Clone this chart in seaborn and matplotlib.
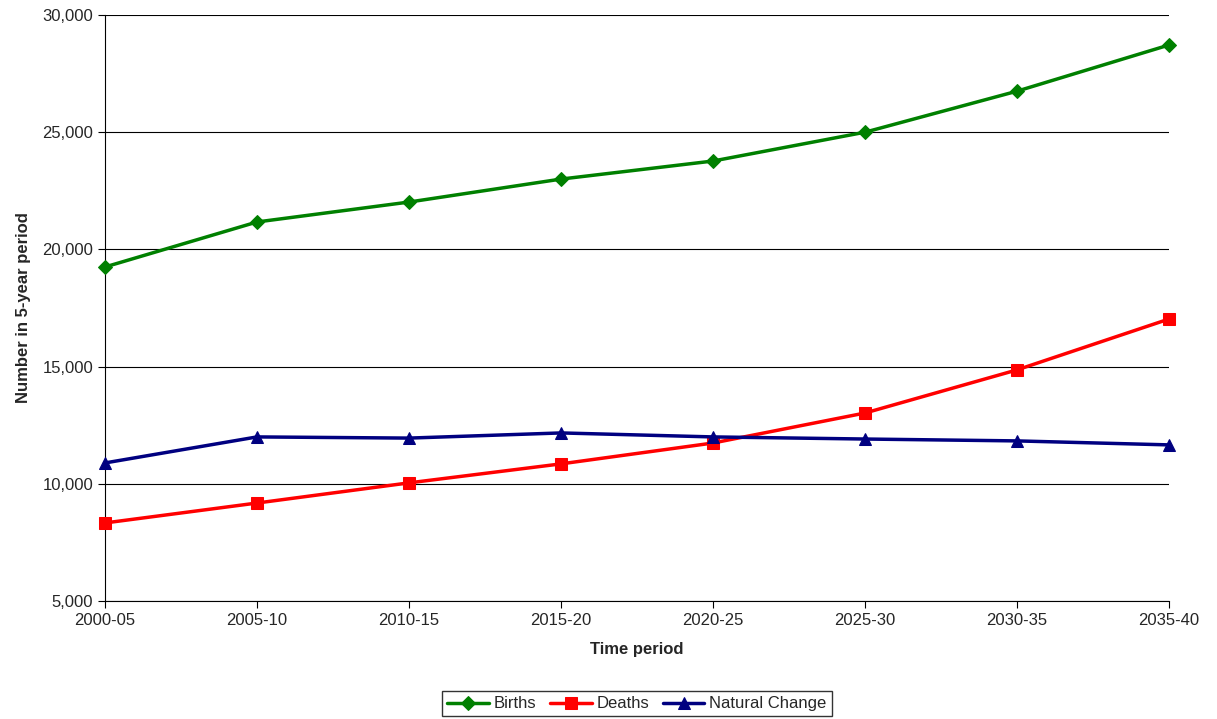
import matplotlib
matplotlib.use("Agg")
import matplotlib.pyplot as plt
import seaborn as sns
import pandas as pd
from matplotlib.ticker import FuncFormatter

periods = ["2000-05","2005-10","2010-15","2015-20","2020-25","2025-30","2030-35","2035-40"]
births = [19250, 21170, 22020, 23000, 23770, 25000, 26750, 28720]
deaths = [8330, 9180, 10040, 10850, 11740, 13020, 14860, 17030]
natural = [10890, 12000, 11950, 12170, 12000, 11910, 11830, 11660]

sns.set_style("white")
plt.rcParams['font.family'] = ['Liberation Sans', 'DejaVu Sans']

fig = plt.figure(figsize=(12.17, 7.19), dpi=100)
ax = fig.add_axes([105/1217, 1-601/719, (1169-105)/1217, (601-15)/719])

x = list(range(len(periods)))
df = pd.DataFrame({"x": x*3,
                   "v": births+deaths+natural,
                   "s": ["Births"]*8+["Deaths"]*8+["Natural Change"]*8})
pal = {"Births": "#008000", "Deaths": "#FF0000", "Natural Change": "#000080"}
mk = {"Births": "D", "Deaths": "s", "Natural Change": "^"}
for s in ["Births", "Deaths", "Natural Change"]:
    d = df[df.s == s]
    sns.lineplot(data=d, x="x", y="v", ax=ax, color=pal[s], marker=mk[s],
                 markersize={"D":7,"s":9,"^":9}[mk[s]], markeredgecolor=pal[s],
                 linewidth=2.5, label=s, clip_on=False, zorder=5)

ax.set_xlim(0, 7)
ax.set_ylim(5000, 30000)
ax.set_yticks(range(5000, 30001, 5000))
ax.yaxis.set_major_formatter(FuncFormatter(lambda v, p: f"{int(v):,}"))
ax.set_xticks(x)
ax.set_xticklabels(periods)
ax.grid(axis="y", color="black", linewidth=0.8)
for sp in ["top", "right"]:
    ax.spines[sp].set_visible(False)
for sp in ["left", "bottom"]:
    ax.spines[sp].set_color("black")
ax.tick_params(axis="both", labelsize=12, length=5, direction="out", color="black")
ax.tick_params(left=True, bottom=True)
ax.set_xlabel("Time period", fontsize=12, fontweight="bold", labelpad=10)
ax.set_ylabel("Number in 5-year period", fontsize=12, fontweight="bold", labelpad=8)
leg = ax.legend(loc="upper center", bbox_to_anchor=(0.5, -0.14), ncol=3, fontsize=12,
                frameon=True, fancybox=False, edgecolor="black", handlelength=2.5,
                columnspacing=0.8, handletextpad=0.3, borderpad=0.3)
fig.savefig("out.png", dpi=100)
